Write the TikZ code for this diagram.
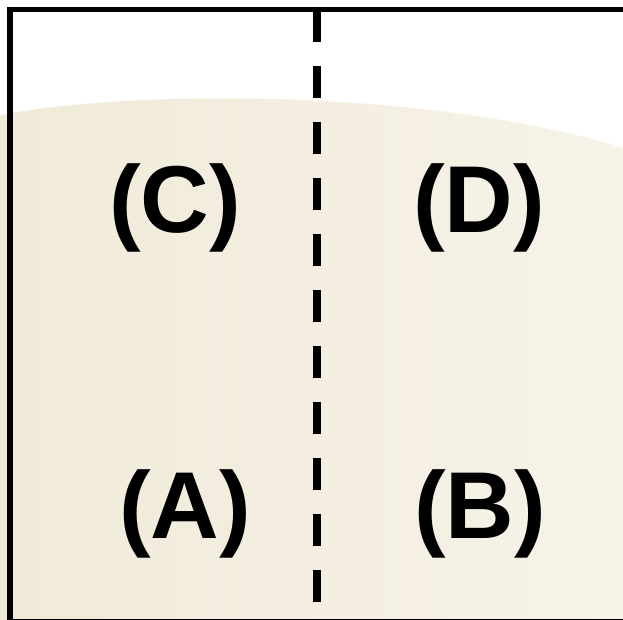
\documentclass[tikz,border=0pt]{standalone}
\usepackage{fontspec}
\setmainfont{Liberation Sans}
\usetikzlibrary{calc}

\definecolor{sandleft}{RGB}{240,234,216}
\definecolor{sandright}{RGB}{247,243,233}

\begin{document}
\begin{tikzpicture}[x=1pt, y=-1pt,
    quadlabel/.style={font=\fontsize{95}{100}\selectfont\bfseries, anchor=base, inner sep=0pt}]
    \useasboundingbox (0,0) rectangle (623,620);
    \clip (0,0) rectangle (623,620);
    % soft background
    \shade[left color=sandleft, right color=sandright]
        (-5,116) .. controls (150,86) and (450,92) .. (630,150)
        -- (630,630) -- (-5,630) -- cycle;
    % frame and divider
    \draw[line width=5pt] (9.5,10) rectangle (660,621.5);
    \draw[line width=6pt] (9.5,8) -- (9.5,625);
    \draw[line width=8pt, dash pattern=on 32pt off 24pt] (317,10) -- (317,630);
    \draw[line width=4.5pt] (7,10) -- (640,10);
    % quadrant labels
    \node[quadlabel] (labelC) at (175,233) {(C)};
    \node[quadlabel] (labelD) at (479,233) {(D)};
    \node[quadlabel] (labelA) at (185,538) {(A)};
    \node[quadlabel] (labelB) at (480,538) {(B)};
\end{tikzpicture}
\end{document}
